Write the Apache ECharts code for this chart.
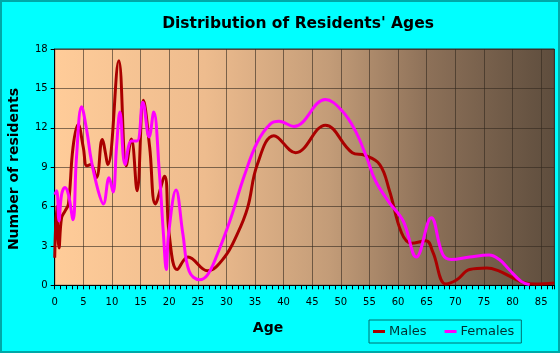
<!DOCTYPE html>
<html>
<head>
<meta charset="utf-8">
<script src="https://cdn.jsdelivr.net/npm/echarts@6/dist/echarts.min.js"></script>
<style>
  html, body { margin: 0; padding: 0; }
  #chart { width: 560px; height: 353px; box-sizing: border-box; border: 2px solid #00a8a8; background: #00ffff; }
</style>
</head>
<body>
<div id="chart"></div>
<script>
// ages / values (age, number of residents)
const malesAge = [0, 0.35, 0.75, 1.2, 1.8, 2.4, 3.2, 4.1, 5, 5.6, 6.3, 7.3, 8.3, 9.3, 11.2, 12.5, 13.4, 14.4, 15.5, 16.6, 17.6, 19.2, 20.0, 21.4, 23.3, 26.7, 29.6, 31.9, 33.7, 35.4, 38.3, 42.1, 47.3, 52.0, 54.2, 56.8, 58.5, 60.6, 62.3, 64.9, 66.1, 68.3, 70.2, 72.5, 75.5, 77.6, 79.8, 82.0, 84, 87.3];
const malesVal = [2.1, 6.0, 2.85, 5.15, 5.65, 6.2, 10.5, 12.25, 10.5, 9.1, 9.2, 8.2, 11.1, 9.2, 17.1, 9.1, 11.15, 7.2, 14.1, 10.5, 6.2, 8.3, 3.9, 1.2, 2.15, 1.1, 2.1, 3.9, 5.9, 9.2, 11.4, 10.1, 12.2, 10.1, 9.9, 9.2, 7.2, 4.0, 3.2, 3.4, 2.5, 0.1, 0.4, 1.2, 1.32, 1.1, 0.62, 0.2, 0.1, 0.18];

const femalesAge = [0, 0.35, 0.75, 1.2, 1.8, 2.4, 3.2, 3.8, 4.7, 5.6, 6.4, 7.6, 8.5, 9.5, 10.2, 10.8, 11.4, 12.3, 13.4, 14.4, 15.4, 16.5, 17.3, 18.3, 19.0, 19.5, 19.9, 21.2, 22.4, 23.5, 25.3, 26.7, 28.4, 30.8, 33.1, 35.4, 37.7, 39.2, 41.8, 47.3, 50.2, 52.5, 54.5, 56.0, 58.3, 60.9, 63.2, 65.8, 67.8, 69.3, 72.5, 75.9, 77.7, 79.4, 81.5, 83.0];
const femalesVal = [6.9, 7.2, 4.9, 6.9, 7.45, 6.9, 5.0, 9.7, 13.6, 11.8, 9.5, 7.2, 6.2, 8.2, 7.1, 10.5, 13.2, 9.2, 11.0, 11.0, 13.95, 11.3, 13.2, 8.5, 3.9, 1.2, 3.9, 7.25, 3.9, 1.07, 0.43, 0.8, 2.35, 5.15, 8.3, 10.9, 12.3, 12.5, 12.1, 14.15, 13.3, 11.8, 9.75, 8.0, 6.4, 4.9, 2.15, 5.15, 2.35, 1.96, 2.15, 2.3, 1.96, 1.2, 0.3, 0.05];

const xMax = 87.3;
const yTicks = [0, 3, 6, 9, 12, 15, 18];

const pairs = (xs, ys) => xs.map((x, i) => [x, ys[i]]);
const FONT = 'DejaVu Sans, Verdana, sans-serif';

const chart = echarts.init(document.getElementById('chart'), null, { renderer: 'canvas' });

chart.setOption({
  animation: false,
  title: {
    text: "Distribution of Residents' Ages",
    left: 291, top: 9, textAlign: 'center',
    textStyle: { fontFamily: FONT, fontWeight: 'bold', fontSize: 15.5, color: '#000' }
  },
  grid: {
    left: 52.7, right: 3.7, top: 47, bottom: 65.7,
    show: true, borderColor: '#333', borderWidth: 1,
    backgroundColor: new echarts.graphic.LinearGradient(0, 0, 1, 0, [
      { offset: 0, color: '#ffcc99' },
      { offset: 0.3, color: '#eebc8e' },
      { offset: 0.55, color: '#c39c78' },
      { offset: 0.75, color: '#8c7058' },
      { offset: 1, color: '#5e4d3d' }
    ])
  },
  legend: {
    data: ['Males', 'Females'],
    left: 367, top: 318,
    padding: [5, 7, 5, 4],
    itemGap: 18, itemWidth: 12, itemHeight: 3,
    icon: 'rect',
    borderColor: '#007070', borderWidth: 1,
    textStyle: { fontFamily: FONT, fontSize: 13, color: '#003030', padding: [0, 0, 0, -1] }
  },
  xAxis: {
    type: 'value', min: 0, max: xMax, interval: 5,
    axisLine: { show: true, lineStyle: { color: '#000', width: 1 } },
    axisTick: { show: true, length: 4, lineStyle: { color: '#000' } },
    minorTick: { show: true, splitNumber: 5, length: 4, lineStyle: { color: '#000' } },
    splitLine: { show: true, lineStyle: { color: 'rgba(50,40,30,0.6)', width: 1 } },
    axisLabel: {
      margin: 12, fontFamily: FONT, fontSize: 10, color: '#000',
      formatter: v => (v % 5 === 0 ? String(v) : '')
    }
  },
  yAxis: {
    type: 'value', min: 0, max: 18, interval: 3,
    axisLine: { show: true, lineStyle: { color: '#000', width: 1 } },
    axisTick: { show: true, length: 4, lineStyle: { color: '#000' } },
    splitLine: { show: true, lineStyle: { color: 'rgba(50,40,30,0.6)', width: 1 } },
    axisLabel: {
      margin: 7, fontFamily: FONT, fontSize: 10, color: '#000',
      formatter: v => (yTicks.indexOf(v) >= 0 ? String(v) : '')
    }
  },
  graphic: [
    {
      type: 'text', x: 266, y: 326,
      style: { text: 'Age', font: 'bold 14px ' + FONT, fill: '#000', align: 'center', verticalAlign: 'middle' }
    },
    {
      type: 'text', x: 12, y: 167, rotation: Math.PI / 2,
      style: { text: 'Number of residents', font: 'bold 14px ' + FONT, fill: '#000', align: 'center', verticalAlign: 'middle' }
    }
  ],
  series: [
    {
      name: 'Males', type: 'line', smooth: 0.4, symbol: 'none',
      data: pairs(malesAge, malesVal),
      lineStyle: { color: '#aa0000', width: 3 }, itemStyle: { color: '#aa0000' }
    },
    {
      name: 'Females', type: 'line', smooth: 0.4, symbol: 'none',
      data: pairs(femalesAge, femalesVal),
      lineStyle: { color: '#ff00ff', width: 3 }, itemStyle: { color: '#ff00ff' }
    }
  ]
});
</script>
</body>
</html>
